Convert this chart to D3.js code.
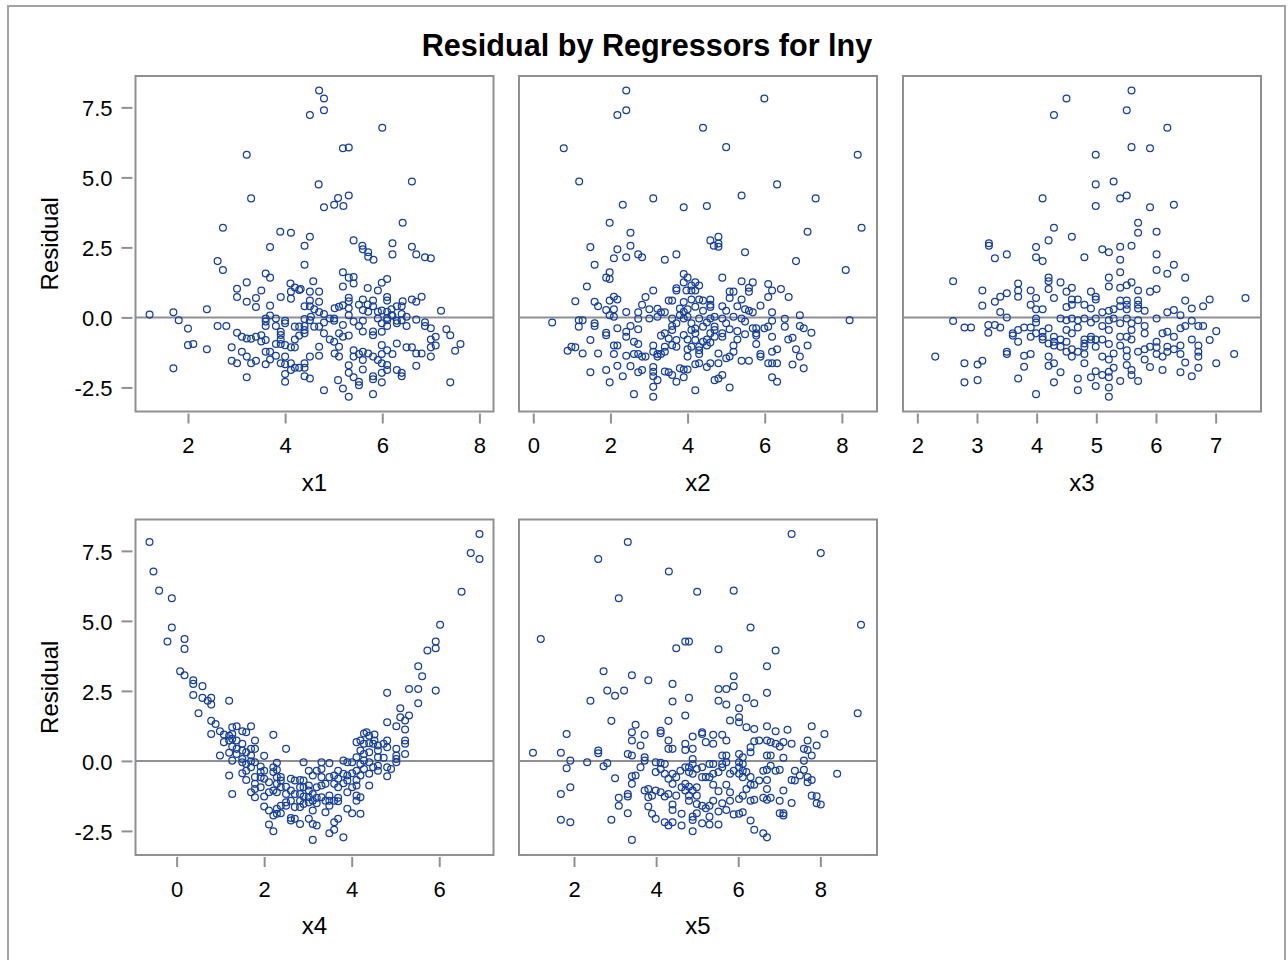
<!DOCTYPE html>
<html>
<head>
<meta charset="utf-8">
<script src="https://cdn.jsdelivr.net/npm/d3@7"></script>
<style>
  html, body { margin: 0; padding: 0; background: #fff; }
  svg { display: block; font-family: "Liberation Sans", Arial, sans-serif; }
</style>
</head>
<body>
<svg id="chart" width="1288" height="960"></svg>
<script>
// Residuals of the lny model plotted against each regressor.
const regressors = ["x1", "x2", "x3", "x4", "x5"];
const titleText = "Residual by Regressors for lny";
const residualLabel = "Residual";

const xDomains = [[0.92, 8.29], [-0.37, 8.91], [1.76, 7.76], [-0.94, 7.24], [0.66, 9.38]];
const xTickValues = [[2, 4, 6, 8], [0, 2, 4, 6, 8], [2, 3, 4, 5, 6, 7], [0, 2, 4, 6], [2, 4, 6, 8]];
const residualDomain = [-3.36, 8.62];
const residualTicks = [-2.5, 0, 2.5, 5, 7.5];

// [regressor value, residual]
const x1Pts = [[4.70,8.10],[4.80,7.82],[4.80,7.40],[4.51,7.23],[6.00,6.77],[3.21,5.81],[5.19,6.04],[5.31,6.07],[4.69,4.75],[6.61,4.85],[3.30,4.25],[5.09,4.26],[5.31,4.35],[5.01,4.02],[5.20,3.98],[4.80,3.93],[6.42,3.38],[2.72,3.20],[3.90,3.06],[4.12,3.02],[4.51,2.88],[3.69,2.51],[4.40,2.56],[5.41,2.75],[5.59,2.56],[5.60,2.43],[5.71,2.33],[5.71,2.17],[5.82,2.06],[6.21,2.65],[6.21,2.25],[6.61,2.52],[6.70,2.25],[6.88,2.15],[7.00,2.11],[2.61,2.01],[2.72,1.69],[4.40,1.88],
[3.60,1.57],[3.69,1.42],[5.19,1.61],[5.31,1.42],[5.41,1.44],[5.41,1.21],[4.58,1.29],[4.11,1.21],[4.20,1.07],[4.32,1.01],[4.29,0.98],[3.21,1.25],[3.01,1.02],[3.01,0.73],[3.51,0.96],[3.40,0.69],[3.21,0.56],[3.40,0.37],[3.69,0.42],[3.91,0.73],[4.12,0.92],[4.12,0.67],[4.51,0.92],[4.70,0.92],[4.51,0.60],[4.70,0.56],[4.40,0.40],[4.51,0.40],[4.60,0.29],[5.19,1.10],[5.70,1.05],[5.99,1.24],[6.10,1.37],[5.91,0.96],[5.31,0.70],[5.31,0.58],[5.60,0.64],[5.81,0.60],[6.10,0.73],[6.10,0.60],[6.42,0.58],[6.61,0.64],[6.70,0.56],[6.81,0.74],[6.40,0.40],[6.30,0.40],[6.19,0.29],[5.02,0.33],[5.11,0.38],[5.19,0.43],[5.31,0.33],[5.52,0.45],[5.71,0.20],[5.91,0.20],[5.99,0.25],[6.10,0.20],[6.10,-0.02],[6.19,0.08],[6.30,-0.12],[6.40,0.12],[6.50,0.02],[6.70,-0.08],[6.88,-0.17],[6.88,-0.31],[7.00,-0.39],[7.21,0.24],[7.32,-0.42],[7.40,-0.64],[7.61,-0.95],[7.50,-1.19],[7.40,-2.32],[7.00,-0.79],[7.10,-0.69],[7.10,-1.00],[7.00,-1.07],[7.00,-1.40],[6.70,-1.73],[6.81,-1.29],[6.70,-1.29],[6.61,-1.07],[6.50,-1.07],[6.50,-0.31],[6.40,-0.10],[6.30,-0.21],[6.21,0.06],[6.10,-0.31],[5.99,-0.51],[5.81,-0.50],[5.81,-0.64],[5.60,-0.50],[5.52,-0.31],[5.60,-0.12],[5.41,-0.15],[5.31,0.08],[5.19,-0.27],[5.11,-0.57],[5.01,-0.12],[4.92,-0.04],[4.80,0.12],[4.70,0.19],[4.53,0.02],[4.51,-0.10],[4.40,-0.06],[4.40,-0.31],[4.40,-0.45],[4.40,-0.57],[4.29,-0.65],[4.20,-0.79],[4.20,-1.07],[4.12,-1.07],[4.00,-0.21],[4.00,-0.12],[3.91,-0.51],[3.91,-0.63],[3.81,-0.31],[3.81,-0.04],[3.69,0.07],[3.60,-0.04],[3.60,-0.15],[3.60,-0.31],[3.60,-0.81],[3.51,-0.64],[3.51,-0.86],[3.40,-0.69],[3.30,-0.76],[3.21,-0.75],[3.11,-0.69],[3.01,-0.55],[2.79,-0.31],[2.61,-0.31],[2.39,0.29],[1.70,0.18],[1.81,-0.10],[2.00,-0.40],[1.21,0.10],[2.00,-0.99],[2.11,-0.95],[2.39,-1.14],[1.70,-1.82],[2.90,-1.07],[3.11,-1.23],[3.21,-1.40],[2.90,-1.55],[3.01,-1.64],[3.30,-1.64],[3.40,-1.55],[3.21,-2.14],[3.60,-1.23],[3.69,-1.23],[3.69,-1.50],[3.60,-1.67],[3.81,-1.37],[3.91,-1.64],[4.00,-1.40],[4.00,-1.67],[4.00,-2.02],[4.00,-2.30],[4.12,-1.64],[4.20,-1.80],[4.12,-1.88],[4.29,-1.80],[4.40,-1.64],[4.40,-1.80],[4.40,-2.10],[4.51,-2.18],[4.51,-1.40],[4.70,-1.37],[4.70,-1.05],[4.80,-0.57],[4.92,-0.79],[5.01,-0.87],[5.02,-1.29],[5.11,-1.40],[5.11,-1.05],[5.19,-0.69],[5.31,-0.65],[5.31,-1.71],[5.31,-1.98],[5.41,-2.14],[5.52,-2.30],[5.52,-2.42],[5.41,-1.17],[5.41,-1.40],[5.52,-1.31],[5.60,-1.23],[5.60,-1.52],[5.60,-1.86],[5.71,-1.29],[5.81,-1.40],[5.91,-1.52],[5.99,-1.31],[5.99,-1.64],[5.99,-0.99],[6.10,-1.17],[6.10,-1.70],[6.10,-1.88],[5.99,-1.98],[5.99,-2.32],[5.81,-2.10],[5.81,-2.21],[5.81,-2.74],[6.30,-1.88],[6.40,-1.98],[6.40,-2.10],[6.30,-0.93],[6.21,-1.31],[5.19,-2.54],[5.09,-2.24],[4.80,-2.60],[5.31,-2.83],[3.91,-0.79],[3.91,-0.95],[3.81,-0.95],[4.00,-0.99],[4.20,-0.33],[4.29,-0.33],[4.60,-0.33],[4.70,-0.33],[4.80,-0.18],[5.01,-0.04],[5.60,0.26],[5.70,0.46],[5.81,0.40],[5.91,-0.04],[5.99,-0.21],[6.10,-0.10]];

const x2Pts = [[2.41,8.10],[5.99,7.82],[2.41,7.40],[2.18,7.23],[4.40,6.77],[0.79,6.04],[5.00,6.08],[8.41,5.81],[1.19,4.85],[6.32,4.75],[3.11,4.25],[5.40,4.35],[7.32,4.25],[2.32,4.02],[3.90,3.93],[4.50,3.98],[1.98,3.38],[7.11,3.06],[8.51,3.20],[2.52,3.02],[1.48,2.51],[2.18,2.43],[2.52,2.56],[4.59,2.75],[4.80,2.88],[4.68,2.56],[4.80,2.64],[4.80,2.52],[2.72,2.25],[2.82,2.15],[2.41,2.15],[2.09,2.11],[3.71,2.25],[3.41,2.06],[5.49,2.33],[6.81,2.01],[8.10,1.69],[1.59,1.88],[1.98,1.61],[1.89,1.42],[1.98,1.37],[1.39,1.10],[1.09,0.58],[1.59,0.56],[1.68,0.40],[1.98,0.60],[2.09,0.74],[2.18,0.64],[1.89,0.26],[1.98,0.08],[2.09,0.02],[2.09,0.29],[2.41,0.19],[2.72,0.18],[2.82,0.45],[2.91,0.73],[3.11,0.96],[3.01,0.29],[3.22,0.31],[3.31,0.18],[3.41,0.18],[3.51,0.60],[3.60,0.60],[3.71,0.96],[3.71,1.04],[3.90,1.55],[4.00,1.42],[3.90,1.25],[4.20,1.25],[4.30,1.14],[4.10,0.96],[4.20,0.96],[4.30,0.64],[4.40,0.60],[4.59,0.64],[4.59,0.45],[4.59,0.37],[4.10,0.64],[3.90,0.55],[3.80,0.32],[3.90,0.20],[4.00,0.29],[4.90,1.42],[5.09,0.92],[5.19,0.92],[5.09,0.69],[5.40,1.29],[5.69,1.25],[5.59,1.06],[5.59,0.92],[5.40,0.64],[5.29,0.40],[5.49,0.29],[5.59,0.24],[5.69,0.18],[5.89,0.42],[6.09,1.19],[6.19,0.96],[6.09,0.73],[6.42,1.01],[6.62,0.73],[6.19,0.18],[6.91,0.08],[6.52,-0.05],[6.19,-0.12],[8.20,-0.10],[0.49,-0.18],[1.18,-0.10],[1.28,-0.10],[1.18,-0.33],[1.59,-0.21],[1.59,-0.31],[1.89,-0.55],[1.89,-0.64],[2.18,-0.39],[2.41,-0.51],[2.41,-0.69],[2.52,-0.31],[2.72,-0.42],[2.72,-0.05],[3.01,-0.04],[3.22,0.02],[3.60,-0.04],[3.60,-0.31],[3.71,-0.21],[3.80,0.08],[3.90,-0.04],[4.00,0.02],[4.10,-0.21],[4.20,-0.40],[4.30,-0.04],[4.40,-0.33],[4.50,-0.18],[4.59,-0.04],[4.70,-0.33],[4.90,-0.04],[5.00,-0.21],[5.09,-0.42],[5.29,-0.49],[5.40,-0.04],[5.49,-0.15],[5.49,-0.60],[5.69,-0.39],[5.78,-0.39],[5.99,-0.39],[5.78,-0.65],[5.78,-0.95],[6.09,-0.33],[6.61,-0.79],[6.72,-0.73],[6.91,-0.31],[7.01,-0.39],[7.21,-0.55],[7.11,-1.00],[6.81,-1.14],[6.91,-1.40],[6.72,-1.68],[7.01,-1.82],[6.32,-1.14],[6.19,-1.23],[6.09,-1.64],[6.19,-1.64],[6.32,-1.64],[6.19,-2.14],[6.32,-2.30],[5.89,-1.31],[5.89,-1.40],[5.59,-1.55],[5.40,-1.55],[5.09,-1.40],[5.00,-1.46],[5.19,-1.23],[5.19,-1.00],[5.29,-0.79],[4.80,-1.29],[4.80,-1.64],[4.59,-1.64],[4.50,-1.77],[4.30,-1.64],[4.20,-1.67],[4.30,-1.31],[4.30,-1.05],[4.40,-0.87],[4.59,-0.90],[4.50,-1.00],[4.70,-0.69],[4.90,-0.57],[4.90,-0.69],[4.20,-0.81],[4.00,-0.79],[3.90,-0.63],[3.71,-0.81],[3.60,-0.99],[3.41,-1.05],[3.31,-0.65],[3.11,-1.00],[3.11,-1.23],[3.22,-1.31],[3.31,-1.31],[3.41,-1.23],[3.22,-1.40],[2.91,-1.40],[2.82,-1.40],[2.72,-1.31],[2.61,-1.31],[2.72,-0.95],[2.61,-0.87],[2.41,-1.37],[2.18,-1.00],[2.09,-1.00],[2.09,-1.31],[1.68,-1.29],[1.48,-0.81],[1.28,-1.29],[1.09,-1.07],[0.99,-1.05],[0.89,-1.19],[2.18,-1.73],[1.89,-1.88],[1.48,-1.96],[1.98,-2.32],[2.32,-2.10],[2.52,-1.74],[2.72,-1.96],[2.82,-1.88],[2.61,-2.74],[3.11,-1.77],[3.11,-1.94],[3.11,-2.10],[3.22,-2.24],[3.11,-2.48],[3.11,-2.83],[3.41,-1.93],[3.51,-1.96],[3.60,-2.06],[3.71,-2.30],[3.80,-1.82],[3.90,-1.86],[3.90,-2.14],[4.00,-1.86],[4.20,-2.60],[4.70,-2.24],[4.80,-2.18],[4.90,-2.06],[5.09,-2.50],[5.78,-0.57],[6.19,-0.69],[6.52,-0.33],[3.60,-0.45],[3.41,-0.57],[3.51,-0.75],[4.10,-0.45],[4.20,-0.57],[4.50,-0.79],[4.59,-0.57],[4.70,-0.45],[3.97,0.96],[4.10,1.14],[4.20,0.38],[4.40,0.24],[5.00,0.24],[4.90,0.40],[4.70,0.02],[5.19,0.02],[4.30,-1.17],[4.10,-1.05],[4.00,-1.14],[4.00,-1.40],[3.71,-1.05]];

const x3Pts = [[5.59,8.10],[4.50,7.82],[5.51,7.40],[4.29,7.23],[6.19,6.77],[5.59,6.08],[5.90,6.04],[4.99,5.81],[4.99,4.75],[5.29,4.85],[4.10,4.25],[5.40,4.25],[5.51,4.35],[4.99,3.98],[5.90,3.93],[6.30,4.02],[5.70,3.38],[4.29,3.20],[5.70,3.02],[6.01,3.06],[4.59,2.88],[4.20,2.75],[3.20,2.65],[3.20,2.56],[3.99,2.51],[5.40,2.52],[5.59,2.56],[5.10,2.43],[5.21,2.33],[3.50,2.25],[3.30,2.11],[3.99,2.15],[4.10,2.01],[4.80,2.15],[5.40,2.06],[6.01,2.25],[6.01,1.69],[6.30,1.88],[6.19,1.56],[6.49,1.42],[5.40,1.61],[5.21,1.42],[5.21,1.10],[5.59,1.25],[5.51,1.15],[5.40,1.06],[5.70,0.96],[5.90,0.92],[6.01,1.01],[2.60,1.29],[3.09,0.96],[3.09,0.42],[3.30,0.56],[3.39,0.19],[3.50,0.86],[3.69,1.21],[3.69,0.96],[3.69,0.74],[3.90,0.96],[3.90,0.45],[3.99,0.69],[3.99,0.29],[4.10,0.29],[4.20,1.42],[4.20,1.29],[4.20,1.01],[4.29,0.69],[4.40,1.25],[4.50,0.92],[4.59,1.06],[4.59,0.64],[4.50,0.37],[4.59,0.45],[4.69,0.64],[4.80,0.45],[4.91,0.92],[4.99,0.74],[4.99,0.64],[4.91,0.32],[5.10,0.18],[5.21,0.24],[5.29,0.29],[5.40,0.60],[5.40,0.40],[5.51,0.60],[5.51,0.45],[5.51,0.29],[5.70,0.60],[5.70,0.45],[5.70,0.32],[5.81,0.24],[6.01,-0.04],[6.19,0.18],[6.30,0.26],[6.41,0.08],[6.49,0.60],[6.60,0.32],[6.79,0.40],[6.90,0.64],[7.50,0.69],[2.60,-0.13],[2.79,-0.36],[2.90,-0.36],[3.19,-0.27],[3.19,-0.55],[3.30,-0.27],[3.39,-0.36],[3.50,0.00],[3.60,-0.57],[3.60,-0.65],[3.69,-0.45],[3.69,-0.87],[3.79,-0.36],[3.90,-0.36],[3.90,-0.69],[3.99,-0.04],[3.99,-0.18],[4.10,-0.51],[4.10,-0.79],[4.20,-0.39],[4.29,-0.69],[4.29,-1.00],[4.40,-0.04],[4.40,-0.79],[4.50,-0.10],[4.50,-0.45],[4.50,-0.87],[4.59,-0.04],[4.59,-0.57],[4.69,-0.10],[4.69,-0.36],[4.80,-0.04],[4.80,-0.79],[4.91,-0.18],[4.91,-0.69],[4.99,-0.04],[4.99,-1.05],[5.10,-0.31],[5.10,-0.79],[5.21,-0.10],[5.21,-0.45],[5.21,-0.95],[5.29,-0.04],[5.40,-0.21],[5.40,-0.69],[5.40,-1.00],[5.51,-0.04],[5.51,-0.69],[5.59,-0.21],[5.59,-0.45],[5.59,-0.79],[5.70,-0.10],[5.81,-0.31],[5.81,-0.57],[5.81,-1.14],[5.90,-1.05],[6.01,-0.87],[6.01,-1.31],[6.11,-0.57],[6.11,-1.40],[6.19,-0.51],[6.19,-1.05],[6.30,-0.69],[6.30,-1.14],[6.41,-0.39],[6.41,-1.00],[6.41,-1.31],[6.49,-0.31],[6.49,-1.61],[6.60,-0.12],[6.60,-0.79],[6.71,-0.31],[6.71,-1.00],[6.71,-1.23],[6.71,-1.40],[6.79,-0.31],[6.90,-0.81],[7.01,-0.49],[7.31,-1.31],[7.01,-1.64],[6.71,-1.80],[6.60,-2.10],[6.41,-1.96],[6.11,-1.88],[5.90,-1.77],[5.70,-2.27],[5.59,-2.06],[5.59,-1.88],[5.51,-1.70],[5.40,-2.27],[5.29,-1.80],[5.21,-1.94],[5.21,-2.14],[5.21,-2.50],[5.21,-2.83],[5.10,-2.06],[4.99,-1.92],[4.99,-2.45],[4.91,-2.14],[4.80,-1.64],[4.69,-2.18],[4.69,-2.60],[4.40,-1.96],[4.29,-2.32],[4.29,-1.64],[4.20,-1.40],[4.20,-1.73],[3.99,-2.74],[3.79,-1.76],[3.79,-1.37],[3.90,-1.31],[3.69,-2.18],[3.50,-1.23],[3.50,-1.31],[3.09,-1.55],[3.01,-1.68],[3.01,-2.24],[2.79,-1.64],[2.79,-2.32],[2.30,-1.40],[4.59,-1.14],[4.59,-1.40],[4.69,-1.23],[4.80,-1.05],[4.80,-1.31],[4.50,-1.23],[4.40,-1.05],[5.10,-1.40],[5.29,-1.29],[5.51,-1.17],[5.51,-1.40],[5.70,-1.23],[5.81,-1.50],[6.01,-1.07],[6.19,-1.23],[5.21,-1.50],[4.99,-0.79],[4.91,-0.79],[4.80,-0.93],[4.10,-0.69],[4.20,-0.93],[4.29,-0.87],[3.99,-0.57],[3.39,0.74]];

const x4Pts = [[-0.62,7.82],[-0.53,6.76],[-0.40,6.08],[-0.11,5.81],[-0.11,4.76],[-0.21,4.26],[0.18,4.35],[0.18,4.00],[0.08,3.20],[0.18,3.06],[0.38,2.88],[0.38,2.75],[0.59,2.67],[0.38,2.35],[0.59,2.25],[0.71,2.15],[0.79,2.25],[0.79,2.01],[1.20,2.15],[0.50,1.70],[0.79,1.43],[0.89,1.32],[0.99,1.06],[0.79,0.96],[1.08,0.67],[1.20,0.90],[1.27,1.20],[1.37,1.24],[1.50,1.06],[1.59,1.02],[1.70,1.24],[1.27,0.79],[1.20,0.73],[1.37,0.73],[1.50,0.61],[1.79,0.73],[1.70,0.43],[1.79,0.43],[2.21,0.93],[2.50,0.43],[0.99,0.19],[1.20,0.29],[1.27,0.01],[1.37,0.25],[1.50,0.07],[1.50,-0.05],[1.59,-0.11],[1.59,-0.35],[1.50,-0.44],[1.20,-0.52],[1.27,-1.18],[1.70,-0.23],[1.79,-0.05],[1.79,-0.58],[1.79,-0.82],[1.79,-1.00],[1.70,-1.12],[1.59,-0.68],[1.92,-0.20],[2.00,0.18],[1.92,-0.40],[1.92,-0.58],[2.00,-0.64],[1.92,-0.94],[1.79,-1.30],[2.00,-1.27],[2.00,-1.63],[2.11,-1.77],[2.11,-2.27],[2.21,-2.51],[2.21,-1.95],[2.29,-1.89],[2.29,-1.71],[2.21,-1.06],[2.29,-1.12],[2.11,-1.12],[2.21,-0.23],[2.29,-0.07],[2.21,-0.40],[2.29,-0.32],[2.29,-0.58],[2.38,-0.70],[2.38,-0.94],[2.29,-0.82],[2.50,-0.92],[2.50,-1.18],[2.50,-1.48],[2.50,-1.60],[2.38,-1.60],[2.38,-1.87],[2.61,-2.13],[2.61,-2.04],[2.70,-2.07],[2.61,-1.42],[2.61,-0.64],[2.70,-1.18],[2.70,-1.65],[2.82,-0.68],[2.82,-0.94],[2.82,-1.18],[2.82,-1.42],[2.82,-1.65],[2.82,-2.25],[2.90,-0.05],[2.90,-0.94],[2.90,-1.27],[2.90,-1.54],[3.02,-0.35],[3.02,-0.88],[3.02,-1.06],[3.02,-1.30],[3.02,-1.48],[3.02,-2.07],[3.11,-0.52],[3.11,-1.18],[3.11,-1.42],[3.11,-1.77],[3.11,-2.25],[3.11,-2.82],[3.20,-0.35],[3.20,-1.32],[3.20,-1.51],[3.20,-2.31],[3.31,-0.05],[3.31,-0.29],[3.31,-0.88],[3.40,-0.82],[3.40,-1.83],[3.49,-0.08],[3.49,-0.58],[3.49,-1.24],[3.49,-1.42],[3.49,-1.60],[3.49,-2.58],[3.60,-0.52],[3.60,-0.82],[3.60,-2.19],[3.60,-2.46],[3.69,-0.35],[3.69,-0.64],[3.69,-1.32],[3.69,-1.44],[3.69,-2.07],[3.81,0.01],[3.81,-0.80],[3.81,-2.73],[3.90,-0.05],[3.90,-0.52],[3.90,-0.70],[3.90,-1.71],[4.01,-0.05],[4.01,-0.44],[4.01,-1.87],[4.11,-0.35],[4.11,-0.68],[4.11,-1.24],[4.11,-1.42],[4.20,-1.30],[4.20,-1.89],[4.11,0.67],[4.20,0.73],[4.28,0.98],[4.34,1.02],[4.40,0.90],[4.52,0.94],[4.20,0.37],[4.28,0.61],[4.28,0.25],[4.40,0.63],[4.40,0.31],[4.11,0.13],[4.20,-0.11],[4.28,0.01],[4.28,-0.29],[4.40,-0.05],[4.40,-0.46],[4.40,-0.88],[4.49,-0.23],[4.49,0.61],[4.60,0.37],[4.60,0.55],[4.60,0.13],[4.60,-0.17],[4.73,0.11],[4.73,0.61],[4.81,0.73],[4.81,0.49],[4.81,-0.23],[4.81,-0.55],[4.90,-0.29],[5.02,0.19],[5.02,0.07],[5.02,0.43],[5.02,-0.05],[5.22,0.25],[5.22,0.61],[5.22,0.73],[5.22,1.12],[5.31,1.62],[5.22,1.44],[5.11,1.56],[5.11,1.88],[5.02,1.24],[4.81,1.38],[4.81,2.43],[5.31,2.57],[5.52,2.57],[5.52,2.06],[5.61,3.02],[5.52,3.38],[5.73,3.94],[5.92,4.26],[5.92,4.02],[6.02,4.86],[5.92,2.51],[6.51,6.04],[6.72,7.42],[6.92,8.10],[6.92,7.21],[4.52,0.73],[4.60,-0.35],[4.20,-0.52],[4.11,-0.88],[4.01,-0.94],[3.90,-1.12],[3.81,-0.46],[3.69,-0.94],[3.60,-1.42],[3.40,-1.42],[3.31,-1.30],[3.31,-0.58],[3.20,-0.94],[2.90,-0.70],[2.70,-0.70],[2.61,-1.06],[2.38,-0.58],[2.11,-0.76],[2.00,-0.35],[1.70,0.19],[1.37,0.43],[1.27,0.51],[1.59,0.31],[1.50,0.37],[1.70,-0.01],[1.27,0.96],[1.08,0.94]];

const x5Pts = [[7.30,8.10],[3.31,7.82],[8.01,7.42],[2.59,7.21],[4.31,6.76],[5.00,6.04],[5.89,6.08],[3.09,5.81],[6.30,4.76],[8.99,4.86],[1.19,4.35],[4.49,4.02],[4.71,4.26],[4.80,4.26],[5.52,3.99],[6.91,3.94],[6.70,3.38],[2.72,3.20],[3.41,3.06],[3.81,2.88],[4.40,2.75],[5.89,3.02],[5.89,2.67],[2.81,2.51],[3.00,2.33],[3.22,2.51],[2.40,2.15],[4.40,2.12],[4.80,2.25],[5.52,2.57],[5.71,2.57],[5.52,2.15],[5.71,2.01],[6.20,2.25],[6.39,2.06],[6.70,2.43],[6.02,1.88],[8.91,1.70],[2.91,1.43],[3.50,1.29],[4.30,1.43],[4.71,1.62],[5.80,1.44],[6.02,1.56],[6.02,1.38],[6.20,1.20],[6.39,1.14],[6.70,1.24],[6.91,1.06],[7.20,1.11],[7.79,1.24],[8.10,0.96],[1.82,0.96],[3.41,1.02],[3.41,0.73],[3.72,0.93],[4.11,1.08],[4.11,0.99],[4.30,0.73],[4.89,0.87],[5.12,1.02],[5.12,0.96],[5.21,0.67],[5.39,0.93],[5.61,0.93],[5.71,0.73],[5.39,0.61],[3.62,0.55],[4.30,0.43],[4.40,0.43],[4.71,0.61],[4.71,0.39],[4.89,0.43],[6.39,0.70],[6.51,0.73],[6.70,0.73],[6.79,0.67],[6.91,0.61],[7.10,0.67],[7.30,0.61],[7.69,0.73],[7.91,0.55],[7.60,0.43],[7.69,0.39],[7.01,0.51],[6.30,0.49],[6.30,0.31],[1.00,0.29],[1.68,0.29],[2.59,0.37],[2.59,0.27],[3.31,0.25],[3.41,0.19],[1.91,0.01],[2.32,-0.05],[2.81,-0.08],[2.72,-0.19],[1.82,-0.26],[3.72,0.13],[3.72,0.01],[3.62,-0.23],[3.99,-0.05],[4.11,-0.07],[4.21,-0.11],[3.99,-0.40],[4.89,0.07],[4.89,-0.11],[4.80,-0.23],[4.80,-0.40],[4.89,-0.46],[4.71,-0.23],[4.99,-0.29],[5.12,-0.23],[5.30,-0.11],[5.39,-0.11],[5.61,0.19],[5.71,0.19],[5.61,-0.11],[5.71,-0.05],[5.61,-0.23],[6.02,0.25],[6.11,0.13],[6.02,-0.05],[6.02,-0.23],[6.11,-0.11],[5.89,-0.35],[6.02,-0.46],[6.11,-0.58],[6.20,-0.40],[5.80,-0.46],[6.70,0.19],[6.79,0.19],[7.10,0.11],[6.70,-0.32],[6.79,-0.17],[6.91,-0.35],[7.01,-0.32],[7.38,-0.35],[7.50,-0.52],[7.60,-0.32],[7.69,-0.58],[7.79,-0.68],[7.69,-0.76],[7.60,0.01],[7.79,0.19],[8.41,-0.46],[7.38,-0.70],[7.30,-0.68],[7.10,-1.06],[7.01,-1.42],[7.30,-1.50],[7.01,-1.87],[7.10,-1.87],[7.10,-1.95],[7.79,-1.24],[7.91,-1.26],[7.91,-1.51],[8.01,-1.56],[6.79,-1.32],[6.61,-1.32],[6.70,-1.39],[6.70,-1.00],[6.70,-0.68],[6.39,-0.85],[6.30,-0.85],[6.20,-1.00],[6.30,-1.42],[6.39,-1.39],[6.11,-1.24],[6.02,-1.36],[6.11,-1.83],[6.30,-2.13],[6.39,-2.46],[6.61,-2.58],[6.70,-2.73],[6.02,-1.89],[5.89,-1.91],[5.71,-1.75],[5.80,-1.42],[5.80,-1.12],[5.71,-0.85],[5.52,-1.08],[5.39,-0.85],[5.30,-0.58],[5.21,-0.58],[5.39,-1.42],[5.30,-1.60],[5.21,-1.69],[5.12,-1.60],[4.99,-1.54],[4.99,-1.24],[4.89,-1.06],[4.80,-0.92],[4.71,-0.82],[4.62,-0.94],[4.49,-1.24],[4.40,-0.82],[4.30,-0.64],[4.30,-1.18],[4.21,-1.27],[4.11,-1.12],[3.99,-1.06],[3.90,-1.24],[3.81,-1.00],[3.72,-1.06],[3.50,-0.52],[3.41,-0.82],[3.41,-0.55],[3.31,-1.18],[3.31,-1.27],[3.09,-1.32],[3.09,-1.60],[3.00,-0.62],[1.91,-0.94],[1.68,-1.18],[1.68,-2.10],[1.91,-2.19],[2.91,-2.10],[3.31,-1.87],[3.41,-2.82],[3.81,-1.63],[3.81,-1.30],[3.90,-1.89],[3.99,-2.07],[4.21,-2.19],[4.30,-2.31],[4.40,-1.56],[4.40,-1.75],[4.40,-2.19],[4.62,-1.89],[4.62,-2.31],[4.89,-1.99],[4.89,-2.11],[4.89,-2.51],[4.99,-1.87],[5.12,-2.23],[5.30,-1.99],[5.30,-2.27],[5.52,-2.27],[5.52,-1.81],[5.61,-1.51],[4.80,-1.24],[4.80,-1.42],[4.71,-1.06],[4.99,-0.94],[5.12,-0.58],[4.11,-0.29],[4.21,-0.46],[4.49,-0.58],[4.59,-0.35],[4.40,-0.46],[5.39,-0.46],[5.52,-0.40],[6.11,-0.35],[6.30,-0.58],[6.51,-0.70],[6.61,-0.35]];

const panelPoints = [x1Pts, x2Pts, x3Pts, x4Pts, x5Pts];

// ---- layout & style ----
const colLeft = [135.5, 519, 903];
const rowTop = [76, 519.5];
const panelW = 358, panelH = 335.5;
const frameColor = "#8e9094";
const markerColor = "#153fa3";
const textColor = "#000";
const fontFamily = "'Liberation Sans', Arial, sans-serif";

const svg = d3.select("#chart");

// outer frame
svg.append("rect")
  .attr("x", 8).attr("y", 6).attr("width", 1277).attr("height", 962)
  .attr("fill", "none").attr("stroke", "#a3a3a3").attr("stroke-width", 2);

svg.append("text")
  .attr("x", 647).attr("y", 56)
  .attr("text-anchor", "middle")
  .attr("font-size", 30.6).attr("font-weight", "bold")
  .attr("fill", textColor)
  .text(titleText);

regressors.forEach((name, i) => {
  const col = i % 3, row = Math.floor(i / 3);
  const left = colLeft[col], top = rowTop[row];
  const x = d3.scaleLinear().domain(xDomains[i]).range([left, left + panelW]);
  const y = d3.scaleLinear().domain(residualDomain).range([top + panelH, top]);

  const g = svg.append("g").attr("class", "panel-" + name);

  // zero reference line
  g.append("line")
    .attr("x1", left).attr("x2", left + panelW)
    .attr("y1", y(0)).attr("y2", y(0))
    .attr("stroke", frameColor).attr("stroke-width", 2);

  // residual markers
  g.append("g").selectAll("circle")
    .data(panelPoints[i])
    .join("circle")
    .attr("cx", d => x(d[0]))
    .attr("cy", d => y(d[1]))
    .attr("r", 3.4)
    .attr("fill", "none")
    .attr("stroke", markerColor)
    .attr("stroke-width", 1.25);

  // panel frame
  g.append("rect")
    .attr("x", left).attr("y", top).attr("width", panelW).attr("height", panelH)
    .attr("fill", "none").attr("stroke", frameColor).attr("stroke-width", 2);

  // x axis
  const xAxis = g.append("g")
    .attr("transform", `translate(0,${top + panelH + 2})`)
    .call(d3.axisBottom(x).tickValues(xTickValues[i]).tickSize(10).tickPadding(14)
      .tickFormat(d3.format("d")));
  xAxis.select(".domain").remove();
  xAxis.selectAll(".tick line").attr("stroke", frameColor).attr("stroke-width", 2);
  xAxis.selectAll(".tick text").attr("font-size", 22).attr("fill", textColor)
    .attr("font-family", fontFamily);

  g.append("text")
    .attr("x", left + panelW / 2).attr("y", top + panelH + 79)
    .attr("text-anchor", "middle").attr("font-size", 24).attr("fill", textColor)
    .text(name);

  // y axis only on the first column
  if (col === 0) {
    const yAxis = g.append("g")
      .attr("transform", `translate(${left - 3},0)`)
      .call(d3.axisLeft(y).tickValues(residualTicks).tickSize(11).tickPadding(9)
        .tickFormat(v => v.toFixed(1)));
    yAxis.select(".domain").remove();
    yAxis.selectAll(".tick line").attr("stroke", frameColor).attr("stroke-width", 2);
    yAxis.selectAll(".tick text").attr("font-size", 22).attr("fill", textColor)
      .attr("font-family", fontFamily).attr("dy", "0.38em");

    g.append("text")
      .attr("transform", `translate(58,${top + panelH / 2}) rotate(-90)`)
      .attr("text-anchor", "middle").attr("font-size", 24).attr("fill", textColor)
      .text(residualLabel);
  }
});
</script>
</body>
</html>
